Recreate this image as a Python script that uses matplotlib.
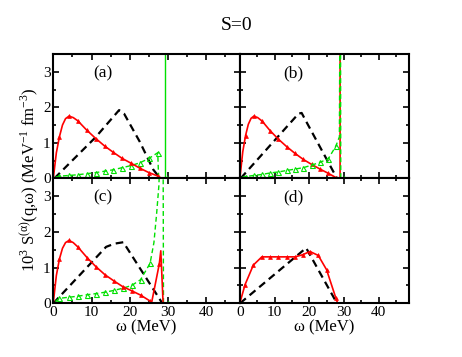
import matplotlib
matplotlib.use('Agg')
import matplotlib.pyplot as plt
from matplotlib.ticker import MultipleLocator
from matplotlib.patches import Rectangle

plt.rcParams['font.family'] = ['Liberation Serif', 'DejaVu Serif']
plt.rcParams['mathtext.fontset'] = 'custom'
plt.rcParams['mathtext.rm'] = 'Liberation Serif'
plt.rcParams['mathtext.it'] = 'Liberation Serif:italic'
plt.rcParams['lines.scale_dashes'] = False

# ---------------- data ----------------
title = "S=0"
panel_labels = ["(a)", "(b)", "(c)", "(d)"]
x_ticks = [0, 10, 20, 30, 40]
y_ticks = [0, 1, 2, 3]

# panel (a)
red_a_w = [0, 0.8, 1.6, 2.4, 3.2, 4.1, 5.2, 6.4, 8.7, 11.1, 13.4, 15.7, 18.0, 20.4, 22.7, 25.0, 27.3, 28.3]
red_a_s = [0, 0.72, 1.17, 1.5, 1.68, 1.75, 1.71, 1.62, 1.36, 1.12, 0.91, 0.73, 0.56, 0.42, 0.28, 0.16, 0.065, 0.0]
black_a_w = [0.3, 11.0, 17.2, 18.5, 22.6, 26.1, 27.9]
black_a_s = [0.0, 1.15, 1.92, 1.82, 1.03, 0.25, 0.0]
green_a_w = [0.5, 1.6, 4.1, 6.4, 8.7, 11.1, 13.4, 15.7, 18.0, 20.4, 22.7, 25.0, 27.3, 27.7, 28.2, 28.8, 29.6]
green_a_s = [0.03, 0.06, 0.08, 0.10, 0.13, 0.16, 0.20, 0.24, 0.30, 0.36, 0.44, 0.56, 0.72, -0.5, -0.5, -0.1, 0.0]
green_a_spike = 29.3

# panel (b)
red_b_w = [0, 0.8, 1.6, 2.4, 3.2, 4.0, 5.1, 6.4, 8.7, 11.1, 13.5, 15.9, 18.3, 20.7, 23.1, 25.5, 27.7, 28.6, 28.9, 28.9]
red_b_s = [0.03, 0.75, 1.2, 1.52, 1.69, 1.75, 1.71, 1.61, 1.34, 1.10, 0.89, 0.70, 0.53, 0.39, 0.26, 0.14, 0.02, -0.03, 0.0, 6.0]
black_b_w = [0.2, 16.9, 17.8, 19.0, 28.0]
black_b_s = [0.0, 1.82, 1.84, 1.62, 0.0]
green_b_w = [0.4, 1.6, 4.0, 6.4, 8.7, 11.1, 13.5, 15.9, 18.3, 20.7, 23.1, 25.5, 27.7, 28.7, 28.9, 29.0, 29.1, 30.1]
green_b_s = [0.02, 0.05, 0.08, 0.11, 0.15, 0.18, 0.22, 0.26, 0.30, 0.37, 0.45, 0.55, 0.91, 1.17, 6.0, 6.0, 0.0, 0.0]

# panel (c)
red_c_w = [0, 0.8, 1.6, 2.4, 3.2, 4.1, 5.2, 6.4, 8.9, 11.1, 13.5, 15.8, 18.1, 20.5, 22.8, 25.2, 25.7, 27.7, 28.1, 28.7]
red_c_s = [0.02, 0.78, 1.24, 1.54, 1.70, 1.76, 1.70, 1.58, 1.27, 1.03, 0.80, 0.63, 0.47, 0.35, 0.23, 0.07, 0.02, 1.1, 1.47, 0.0]
black_c_w = [0.0, 13.8, 16.0, 18.3, 28.5]
black_c_s = [0.0, 1.58, 1.67, 1.71, 0.0]
green_c_w = [0.5, 1.6, 4.1, 6.5, 8.9, 11.1, 13.5, 15.8, 18.1, 20.5, 22.8, 25.3, 26.3, 27.0, 27.6, 28.0, 28.7, 28.8, 30.1]
green_c_s = [0.05, 0.14, 0.17, 0.20, 0.24, 0.27, 0.31, 0.36, 0.42, 0.50, 0.66, 1.12, 1.7, 2.5, 3.3, 4.5, 4.5, 0.0, 0.0]

# panel (d)
red_d_w = [0, 1.45, 3.85, 6.3, 8.7, 11.1, 13.5, 15.9, 18.1, 20.2, 22.6, 25.0, 27.7, 28.2]
red_d_s = [0.02, 0.52, 1.07, 1.30, 1.30, 1.30, 1.30, 1.30, 1.36, 1.45, 1.34, 0.94, 0.14, 0.0]
black_d_w = [0.0, 19.1, 28.0]
black_d_s = [0.0, 1.55, 0.0]

# ---------------- figure ----------------
W, H = 462, 357
fig = plt.figure(figsize=(W / 100, H / 100), dpi=100)

lx0, lx1 = 53.3, 240.0
rx0, rx1 = 240.0, 409.0
ty0, ty1 = 54.0, 178.3
by0, by1 = 178.3, 303.3

def mk(x0, x1, y0, y1):
    return fig.add_axes([x0 / W, 1 - y1 / H, (x1 - x0) / W, (y1 - y0) / H])

ax_a = mk(lx0, lx1, ty0, ty1)
ax_b = mk(rx0, rx1, ty0, ty1)
ax_c = mk(lx0, lx1, by0, by1)
ax_d = mk(rx0, rx1, by0, by1)
axes = [ax_a, ax_b, ax_c, ax_d]

RED = '#ff0000'
GREEN = '#00e000'

def red_line(ax, w, s, marks):
    ax.plot(w, s, color=RED, lw=1.2, marker='^', ms=2.8, mfc=RED, mec=RED, mew=0.5,
            markevery=marks, zorder=4)

def black_line(ax, w, s):
    ax.plot(w, s, color='black', lw=1.6, linestyle=(0, (5.5, 3.5)), zorder=3)

def green_line(ax, w, s, marks, clip_ext=False, z=3):
    ln, = ax.plot(w, s, color=GREEN, lw=1.0, linestyle=(0, (3.5, 2.2)), marker='^',
                  ms=3.6, mfc='none', mec=GREEN, mew=0.8, markevery=marks, zorder=z)
    if clip_ext:
        ln.set_clip_path(Rectangle((0, -0.12), 1, 1.12, transform=ax.transAxes))
    return ln

# (a)
black_line(ax_a, black_a_w, black_a_s)
green_line(ax_a, green_a_w, green_a_s, list(range(1, 13)) + [16], clip_ext=True)
ax_a.axvline(green_a_spike, color=GREEN, lw=1.0, zorder=3)
red_line(ax_a, red_a_w, red_a_s, [2, 5] + list(range(7, 17)))

# (b)
black_line(ax_b, black_b_w, black_b_s)
red_line(ax_b, red_b_w, red_b_s, [2, 5] + list(range(7, 17)))
green_line(ax_b, green_b_w, green_b_s, list(range(1, 13)) + [17], z=4.5)

# (c)
black_line(ax_c, black_c_w, black_c_s)
green_line(ax_c, green_c_w, green_c_s, list(range(1, 12)) + [18])
red_line(ax_c, red_c_w, red_c_s, [2, 5] + list(range(7, 16)) + [17])

# (d)
black_line(ax_d, black_d_w, black_d_s)
red_line(ax_d, red_d_w, red_d_s, list(range(1, 13)))

label_pos = {ax_a: 0.265, ax_b: 0.315, ax_c: 0.265, ax_d: 0.315}
for ax, lab in zip(axes, panel_labels):
    ax.set_xlim(0, 48.8)
    ax.set_ylim(0, 3.5)
    ax.set_xticks(x_ticks)
    ax.set_yticks(y_ticks)
    ax.xaxis.set_minor_locator(MultipleLocator(5))
    ax.yaxis.set_minor_locator(MultipleLocator(0.5))
    ax.tick_params(which='both', direction='in', top=True, right=True, width=1.2,
                   labelsize=11, pad=2)
    ax.tick_params(which='major', length=4.5)
    ax.tick_params(which='minor', length=2.5)
    for sp in ax.spines.values():
        sp.set_linewidth(1.5)
        sp.set_zorder(5)
    ax.text(label_pos[ax], 0.845, lab, transform=ax.transAxes, fontsize=12.5,
            ha='center', va='center')

for ax in (ax_a, ax_b):
    ax.tick_params(labelbottom=False)
for ax in (ax_b, ax_d):
    ax.tick_params(labelleft=False)

for ax in (ax_c, ax_d):
    ax.set_xlabel("ω (MeV)", fontsize=12, labelpad=0)

fig.text(30 / W, 1 - 180 / H,
         r"10$^{3}$ S$^{\mathrm{(α)}}$(q,ω) (MeV$^{-1}$ fm$^{-3}$)",
         rotation=90, ha='center', va='center', fontsize=12)
fig.text(237 / W, 1 - 25 / H, title, ha='center', va='center', fontsize=14)

fig.savefig('out.png', dpi=100)
